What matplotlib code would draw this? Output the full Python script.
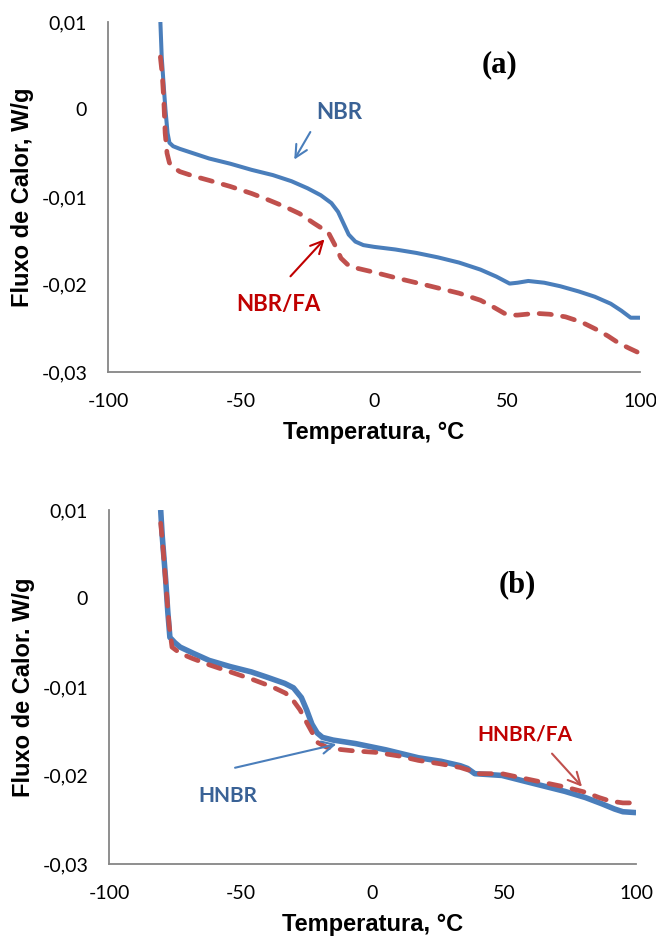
import matplotlib
matplotlib.use('Agg')
import matplotlib.pyplot as plt
from matplotlib.ticker import FixedLocator, FixedFormatter

# curvas DSC - painel (a)
temp_nbr = [-80.3, -79.8, -79.0, -78.4, -77.6, -76.9, -75.5, -73.0, -68, -62, -54, -46, -38, -31, -25,
            -20, -16, -13.5, -11.5, -9.5, -7, -4, 0, 8, 16, 24, 32, 40, 46, 51, 54, 58, 64, 70, 77,
            83, 89, 93, 96.5, 100]
fluxo_nbr = [0.0100, 0.0060, 0.0025, 0.0, -0.0027, -0.0038, -0.0042, -0.0045, -0.0050, -0.0056,
             -0.0062, -0.0069, -0.0075, -0.0082, -0.0090, -0.0098, -0.0107, -0.0117, -0.0130,
             -0.0143, -0.0151, -0.0155, -0.0157, -0.0160, -0.0164, -0.0169, -0.0175, -0.0183,
             -0.0191, -0.0199, -0.0198, -0.0196, -0.0198, -0.0202, -0.0208, -0.0214, -0.0222,
             -0.0230, -0.0238, -0.0238]

temp_nbr_fa = [-80.3, -79.6, -79.0, -78.5, -77.8, -76.9, -75, -73, -68, -62, -54, -46, -40, -33.6,
               -28, -22.6, -19, -17.1, -14.5, -12.4, -10, -7, 0, 9, 20, 32, 40, 45, 49, 51.3, 54,
               60.7, 66, 72, 78, 84, 88, 92, 96, 99.5]
fluxo_nbr_fa = [0.0060, 0.0040, 0.0010, -0.0027, -0.0050, -0.0061, -0.0067, -0.0071, -0.0076,
                -0.0081, -0.0088, -0.0096, -0.0103, -0.0111, -0.0119, -0.0130, -0.0137, -0.0141,
                -0.0156, -0.0170, -0.0177, -0.0181, -0.0186, -0.0193, -0.0201, -0.0210, -0.0218,
                -0.0226, -0.0233, -0.0235, -0.0235, -0.0233, -0.0234, -0.0237, -0.0243, -0.0252,
                -0.0259, -0.0267, -0.0273, -0.0278]

# curvas DSC - painel (b)
temp_hnbr = [-80.4, -79.8, -79.0, -78.5, -77.7, -76.9, -75, -73, -68, -62, -54, -46, -40, -33.3,
             -30, -27, -25, -23, -21, -19, -15, -6.4, 5, 17.4, 26, 33.3, 36, 38.8, 44, 49.1, 57,
             65, 73, 80.8, 87, 91.9, 95, 100]
fluxo_hnbr = [0.0100, 0.0070, 0.0040, 0.0021, -0.0015, -0.0044, -0.0050, -0.0055, -0.0062,
              -0.0070, -0.0077, -0.0083, -0.0089, -0.0096, -0.0101, -0.0112, -0.0126, -0.0142,
              -0.0152, -0.0157, -0.0160, -0.0164, -0.0171, -0.0180, -0.0184, -0.0189, -0.0192,
              -0.0198, -0.0199, -0.0200, -0.0206, -0.0212, -0.0218, -0.0225, -0.0232, -0.0238,
              -0.0241, -0.0242]

temp_hnbr_fa = [-80.4, -79.6, -78.8, -78.0, -77.2, -76.1, -73, -68.2, -62, -54, -46, -38, -33,
                -30.2, -27.5, -25.4, -23, -20.7, -17.5, -14.3, -8, 1.5, 10, 17.4, 26, 33.3, 36.5,
                39.6, 44, 49.1, 57, 65, 73, 80.8, 86, 90.3, 95, 99.9]
fluxo_hnbr_fa = [0.0085, 0.0060, 0.0030, 0.0000, -0.0030, -0.0055, -0.0062, -0.0068, -0.0075,
                 -0.0083, -0.0091, -0.0100, -0.0107, -0.0115, -0.0126, -0.0138, -0.0151, -0.0163,
                 -0.0168, -0.0170, -0.0172, -0.0174, -0.0178, -0.0183, -0.0187, -0.0191, -0.0194,
                 -0.0198, -0.0198, -0.0198, -0.0203, -0.0208, -0.0213, -0.0219, -0.0225, -0.0229,
                 -0.0231, -0.0231]

x_ticks = [-100, -50, 0, 50, 100]
x_labels = ['-100', '-50', '0', '50', '100']
y_ticks = [0.01, 0.0, -0.01, -0.02, -0.03]
y_labels = ['0,01', '0', '-0,01', '-0,02', '-0,03']

azul = '#4A7EBB'
vermelho = '#C0504D'
texto_azul = '#3A6296'
texto_verm = '#C00000'

fig = plt.figure(figsize=(6.56, 9.4), dpi=100)
ax1 = fig.add_axes([0.1646, 0.6043, 0.811, 0.3723])
ax2 = fig.add_axes([0.1662, 0.0809, 0.8034, 0.3766])


def formatar(ax, ylabel):
    ax.set_xlim(-100, 100)
    ax.set_ylim(-0.03, 0.01)
    ax.xaxis.set_major_locator(FixedLocator(x_ticks))
    ax.xaxis.set_major_formatter(FixedFormatter(x_labels))
    ax.yaxis.set_major_locator(FixedLocator(y_ticks))
    ax.yaxis.set_major_formatter(FixedFormatter(y_labels))
    ax.tick_params(length=0, labelsize=14, pad=15)
    ax.tick_params(axis='y', pad=15)
    for lab in ax.get_xticklabels() + ax.get_yticklabels():
        lab.set_family('Lato')
    for s in ['top', 'right']:
        ax.spines[s].set_visible(False)
    for s in ['left', 'bottom']:
        ax.spines[s].set_color('#868686')
        ax.spines[s].set_linewidth(1.3)
    ax.set_xlabel('Temperatura, °C', family='Liberation Sans', fontweight='bold',
                  fontsize=17, labelpad=8)
    ax.set_ylabel(ylabel, family='Liberation Sans', fontweight='bold', fontsize=17,
                  labelpad=5)


# (a) NBR e NBR/FA
ax1.plot(temp_nbr, fluxo_nbr, color=azul, lw=2.9, solid_capstyle='butt')
ax1.plot(temp_nbr_fa, fluxo_nbr_fa, color=vermelho, lw=3.4, dashes=(2.6, 2.4),
         dash_capstyle='round')
formatar(ax1, 'Fluxo de Calor, W/g')
ax1.text(47.3, 0.0051, '(a)', family='Liberation Serif', fontweight='bold', fontsize=22,
         ha='center', va='center')
ax1.text(-13.2, -0.0004, 'NBR', family='Lato', fontweight='bold', fontsize=16,
         color=texto_azul, ha='center', va='center')
ax1.annotate('', xy=(-30.5, -0.0060), xytext=(-23.4, -0.0023),
             arrowprops=dict(arrowstyle='->', color=azul, lw=1.5, mutation_scale=22))
ax1.text(-36, -0.0223, 'NBR/FA', family='Lato', fontweight='bold', fontsize=16,
         color=texto_verm, ha='center', va='center')
ax1.annotate('', xy=(-17.9, -0.0146), xytext=(-32.1, -0.0193),
             arrowprops=dict(arrowstyle='->', color=texto_verm, lw=1.5, mutation_scale=22))

# (b) HNBR e HNBR/FA
ax2.plot(temp_hnbr, fluxo_hnbr, color=azul, lw=4.0, solid_capstyle='butt')
ax2.plot(temp_hnbr_fa, fluxo_hnbr_fa, color=vermelho, lw=3.4, dashes=(2.6, 2.4),
         dash_capstyle='round')
formatar(ax2, 'Fluxo de Calor. W/g')
ax2.text(55.1, 0.0015, '(b)', family='Liberation Serif', fontweight='bold', fontsize=22,
         ha='center', va='center')
ax2.text(57.9, -0.0154, 'HNBR/FA', family='Lato', fontweight='bold', fontsize=15,
         color=texto_verm, ha='center', va='center')
ax2.annotate('', xy=(80.2, -0.0215), xytext=(67.4, -0.0173),
             arrowprops=dict(arrowstyle='->', color=vermelho, lw=1.5, mutation_scale=22))
ax2.text(-54.8, -0.0223, 'HNBR', family='Lato', fontweight='bold', fontsize=15,
         color=texto_azul, ha='center', va='center')
ax2.annotate('', xy=(-12.7, -0.0164), xytext=(-53.2, -0.0192),
             arrowprops=dict(arrowstyle='->', color=azul, lw=1.5, mutation_scale=22))

plt.savefig('out.png', dpi=100)
